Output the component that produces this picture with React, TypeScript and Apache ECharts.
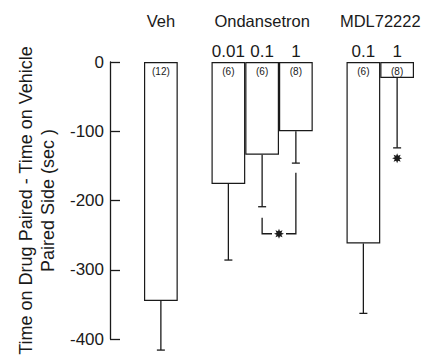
import React, { useEffect, useRef } from "react";
import * as echarts from "echarts";

const categories = ["Veh", "gap1", "O0.01", "O0.1", "O1", "gap2", "M0.1", "M1"];
const doseLabels = ["", "", "0.01", "0.1", "1", "", "0.1", "1"];
const means: (number | null)[] = [-345, null, -176, -134, -100, null, -262, -23];
const errorEnds: (number | null)[] = [-416, null, -286, -209, -146, null, -363, -124];
const nLabels = ["(12)", "", "(6)", "(6)", "(8)", "", "(6)", "(8)"];
const groupNames = ["Veh", "Ondansetron", "MDL72222"];
const groupSpans = [
  [0, 0],
  [3, 3],
  [6, 7],
];
// bracket: [leftIdx, rightIdx, leftTop, bottom, rightTop]
const bracket = [[3, 4, -225, -248, -160]];
// stars: [idxA, idxB, value]
const stars = [
  [3, 4, -248],
  [7, 7, -139],
];
const yTicks = { min: -400, max: 0, interval: 100 };

const FONT = "'Liberation Sans', Arial, Helvetica, sans-serif";
const INK = "#1a1a1a";

function starPoints(cx: number, cy: number, ro: number, ri: number) {
  const pts: number[][] = [];
  for (let i = 0; i < 16; i++) {
    const r = i % 2 === 0 ? ro : ri;
    const a = (Math.PI * i) / 8 - Math.PI / 2;
    pts.push([cx + r * Math.cos(a), cy + r * Math.sin(a)]);
  }
  return pts;
}

export default function App() {
  const ref = useRef<HTMLDivElement>(null);
  useEffect(() => {
    if (!ref.current) return;
    const chart = echarts.init(ref.current, null, { renderer: "svg" });
    const errData = means
      .map((m, i) => (m === null || errorEnds[i] === null ? null : [i, m, errorEnds[i] as number]))
      .filter((d) => d !== null) as number[][];

    chart.setOption({
      animation: false,
      textStyle: { fontFamily: FONT },
      grid: { left: 144, right: 12, top: 62, bottom: 16, containLabel: false, outerBoundsMode: "none" },
      xAxis: {
        type: "category",
        data: categories,
        position: "top",
        axisLine: { show: false },
        axisTick: { show: false },
        splitLine: { show: false },
        axisLabel: {
          interval: 0,
          margin: 2,
          fontSize: 17,
          color: INK,
          fontFamily: FONT,
          formatter: (_v: string, i: number) => doseLabels[i],
        },
      },
      yAxis: {
        type: "value",
        min: yTicks.min,
        max: yTicks.max,
        interval: yTicks.interval,
        offset: 34,
        axisLine: { show: true, lineStyle: { color: INK, width: 1.3 } },
        axisTick: { show: true, inside: true, length: 10, lineStyle: { color: INK, width: 1.3 } },
        splitLine: { show: false },
        axisLabel: { margin: 6, fontSize: 17, color: INK, fontFamily: FONT },
        name: "Time on Drug Paired - Time on Vehicle\nPaired Side (sec )",
        nameLocation: "middle",
        nameRotate: 90,
        nameGap: 46,
        nameTextStyle: { fontSize: 18, lineHeight: 22, color: INK, fontFamily: FONT, align: "center" },
      },
      series: [
        {
          type: "bar",
          data: means.map((m) => (m === null ? "-" : m)),
          barWidth: "100%",
          barGap: "0%",
          itemStyle: { color: "#fff", borderColor: INK, borderWidth: 1.2 },
          label: {
            show: true,
            position: "insideTop",
            distance: 4,
            fontSize: 10,
            color: INK,
            fontFamily: FONT,
            formatter: (p: any) => nLabels[p.dataIndex],
          },
          z: 2,
        },
        {
          type: "custom",
          data: errData,
          z: 3,
          renderItem: (_params: any, api: any) => {
            const i = api.value(0);
            const p1 = api.coord([i, api.value(1)]);
            const p2 = api.coord([i, api.value(2)]);
            const style = { stroke: INK, lineWidth: 1.3 };
            return {
              type: "group",
              children: [
                { type: "line", shape: { x1: p1[0], y1: p1[1], x2: p2[0], y2: p2[1] }, style },
                { type: "line", shape: { x1: p2[0] - 4, y1: p2[1], x2: p2[0] + 4, y2: p2[1] }, style },
              ],
            };
          },
        },
        {
          type: "custom",
          data: bracket,
          z: 3,
          renderItem: (_params: any, api: any) => {
            const xL = api.coord([api.value(0), api.value(2)])[0];
            const xR = api.coord([api.value(1), api.value(4)])[0];
            const yLt = api.coord([api.value(0), api.value(2)])[1];
            const yB = api.coord([api.value(0), api.value(3)])[1];
            const yRt = api.coord([api.value(1), api.value(4)])[1];
            const xm = (xL + xR) / 2;
            const style = { stroke: INK, lineWidth: 1.3, fill: "none" };
            return {
              type: "group",
              children: [
                { type: "polyline", shape: { points: [[xL, yLt], [xL, yB], [xm - 7, yB]] }, style },
                { type: "polyline", shape: { points: [[xm + 7, yB], [xR, yB], [xR, yRt]] }, style },
              ],
            };
          },
        },
        {
          type: "custom",
          data: stars,
          z: 4,
          renderItem: (_params: any, api: any) => {
            const a = api.coord([api.value(0), api.value(2)]);
            const b = api.coord([api.value(1), api.value(2)]);
            const cx = (a[0] + b[0]) / 2;
            return {
              type: "polygon",
              shape: { points: starPoints(cx, a[1], 5, 2.6) },
              style: { fill: INK },
            };
          },
        },
        {
          type: "custom",
          data: groupSpans,
          z: 4,
          renderItem: (params: any, api: any) => {
            const a = api.coord([api.value(0), 0]);
            const b = api.coord([api.value(1), 0]);
            return {
              type: "text",
              x: (a[0] + b[0]) / 2,
              y: a[1] - 41,
              style: {
                text: groupNames[params.dataIndex],
                fontSize: 16.5,
                fontFamily: FONT,
                fill: INK,
                align: "center",
                verticalAlign: "middle",
              },
            };
          },
        },
      ],
    });
    return () => chart.dispose();
  }, []);
  return <div ref={ref} style={{ position: "absolute", left: 0, top: 0, width: 426, height: 355 }} />;
}
